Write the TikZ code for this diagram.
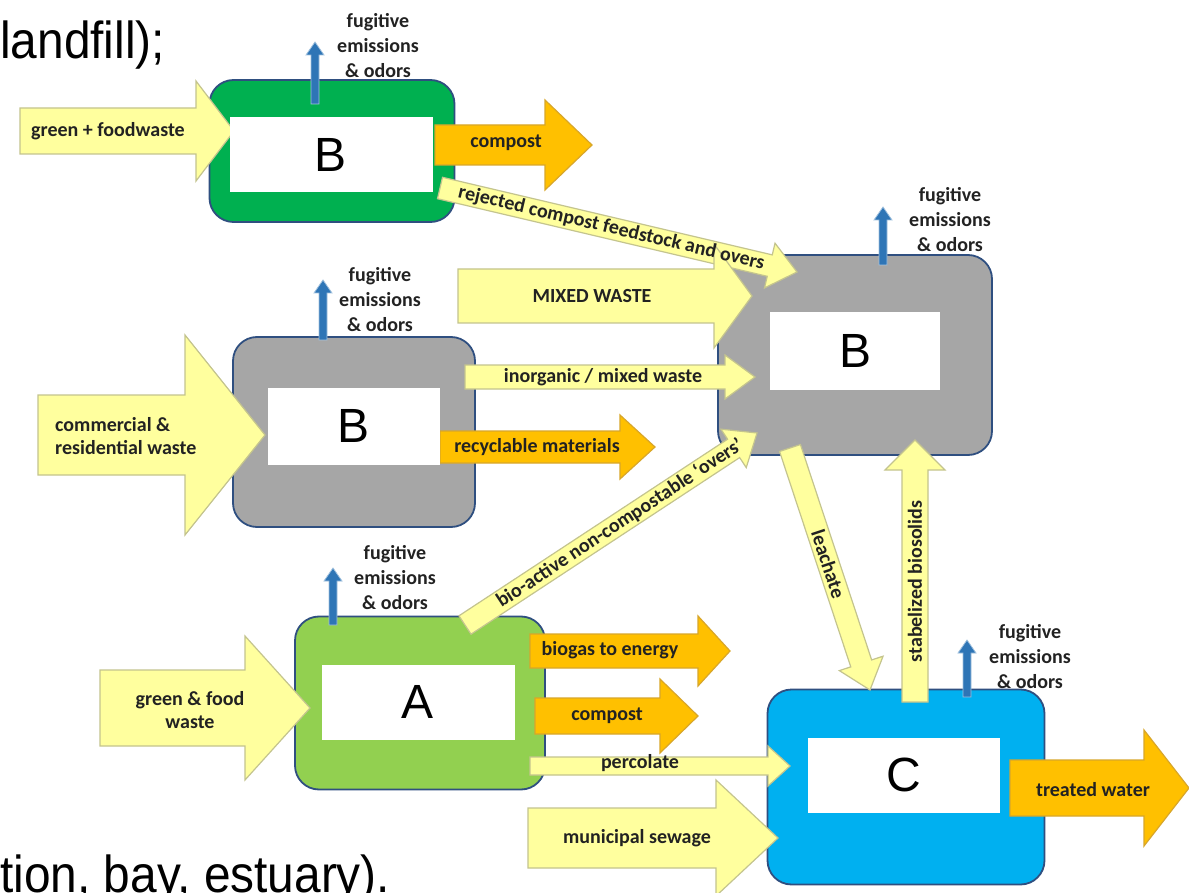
\documentclass[tikz,border=0pt]{standalone}
\usepackage{fontspec}
\setmainfont{Carlito}
\newfontfamily\slidefont{Liberation Sans}
\usepackage{tikz}
\usetikzlibrary{calc}

\definecolor{feedyellow}{HTML}{FFFF9E}
\definecolor{feededge}{HTML}{C4C48E}
\definecolor{productorange}{HTML}{FFC000}
\definecolor{productedge}{HTML}{D8A62A}
\definecolor{gasblue}{HTML}{2E75B6}
\definecolor{boxedge}{HTML}{2F4F80}
\definecolor{compostgreen}{HTML}{00B050}
\definecolor{digestgreen}{HTML}{92D050}
\definecolor{mrfgray}{HTML}{A6A6A6}
\definecolor{waterblue}{HTML}{00B0F0}
\definecolor{labeltext}{HTML}{222222}

\tikzset{site/.style={draw=boxedge, line width=1.8pt, rounded corners=24pt, inner sep=0pt}}
\tikzset{window/.style={fill=white, inner sep=0pt, font=\slidefont\fontsize{48}{48}\selectfont}}
\tikzset{feed/.style={fill=feedyellow, draw=feededge, line width=1.2pt}}
\tikzset{product/.style={fill=productorange, draw=productedge, line width=1.2pt}}
\tikzset{gas/.style={fill=gasblue, draw=gasblue!45, line width=0.8pt}}
\tikzset{lbl/.style={inner sep=0pt, text=labeltext, font=\fontsize{20}{23}\selectfont\bfseries}}
\tikzset{fumes/.style={lbl, align=center, font=\fontsize{20}{25}\selectfont\bfseries}}
\tikzset{slide/.style={inner sep=0pt, anchor=base west, xscale=0.92, font=\slidefont\fontsize{52}{52}\selectfont}}

% block arrow: [style]{tail}{tip}{body half width}{head half width}{head length}
\newcommand{\flow}[6][feed]{%
	\coordinate (flow base) at ($(#3)!#6!(#2)$);
	\filldraw[#1] ($(#2)!#4!90:(#3)$) -- ($(flow base)!#4!90:(#3)$) -- ($(flow base)!#5!90:(#3)$) -- (#3)
		-- ($(flow base)!#5!-90:(#3)$) -- ($(flow base)!#4!-90:(#3)$) -- ($(#2)!#4!-90:(#3)$) -- cycle;}

\begin{document}
\begin{tikzpicture}[x=1pt, y=-1pt]
	\path[use as bounding box, fill=white] (0,0) rectangle (1189,893);

	% slide text round the figure
	\node[slide] (slide top) at (0,59) {landfill);};
	\node[slide] (slide bottom) at (0,892) {tion, bay, estuary).};

	% SITES
	\node[site, fill=compostgreen, minimum width=245pt, minimum height=142pt] (compost site) at (332,151) {};
	\node[site, fill=mrfgray, minimum width=274pt, minimum height=200pt] (landfill site) at (855,355) {};
	\node[site, fill=mrfgray, minimum width=242pt, minimum height=190pt] (mrf site) at (354,432) {};
	\node[site, fill=digestgreen, minimum width=250pt, minimum height=173pt] (digest site) at (420,703) {};
	\node[site, fill=waterblue, minimum width=277pt, minimum height=195pt] (water site) at (906,787) {};

	% end points of the flows
	\coordinate (food top tail) at (20,131);		\coordinate (food top tip) at (234,131);
	\coordinate (compost top tail) at (435,145);	\coordinate (compost top tip) at (592,145);
	\coordinate (rejected tail) at (440,188);		\coordinate (rejected tip) at (797,272);
	\coordinate (mixed tail) at (458,296);			\coordinate (mixed tip) at (752,296);
	\coordinate (inorganic tail) at (465,377);		\coordinate (inorganic tip) at (755,377);
	\coordinate (commercial tail) at (38,435);		\coordinate (commercial tip) at (265,435);
	\coordinate (recycle tail) at (440,447);		\coordinate (recycle tip) at (655,447);
	\coordinate (overs tail) at (465,625);			\coordinate (overs tip) at (757,433);
	\coordinate (leachate tail) at (790,448);		\coordinate (leachate tip) at (870,690);
	\coordinate (biosolids tail) at (915,702);		\coordinate (biosolids tip) at (915,440);
	\coordinate (food low tail) at (100,708);		\coordinate (food low tip) at (310,708);
	\coordinate (biogas tail) at (530,651);			\coordinate (biogas tip) at (730,651);
	\coordinate (compost low tail) at (535,716);	\coordinate (compost low tip) at (698,716);
	\coordinate (percolate tail) at (530,766);		\coordinate (percolate tip) at (790,766);
	\coordinate (sewage tail) at (528,838);			\coordinate (sewage tip) at (778,838);
	\coordinate (treated tail) at (1010,788);		\coordinate (treated tip) at (1189,788);

	% fugitive emissions
	\coordinate (compost gas) at (315,104);		\coordinate (compost gas top) at (315,42);
	\coordinate (landfill gas) at (883,265);	\coordinate (landfill gas top) at (883,207);
	\coordinate (mrf gas) at (323,340);			\coordinate (mrf gas top) at (323,280);
	\coordinate (digest gas) at (333,625);		\coordinate (digest gas top) at (333,568);
	\coordinate (water gas) at (967,697);		\coordinate (water gas top) at (967,640);

	% FLOWS
	\flow{food top tail}{food top tip}{23pt}{50pt}{38pt}
	\flow[product]{compost top tail}{compost top tip}{20pt}{45pt}{47pt}
	\flow{rejected tail}{rejected tip}{11pt}{23pt}{28pt}
	\flow{mixed tail}{mixed tip}{27pt}{52pt}{38pt}
	\flow{inorganic tail}{inorganic tip}{12pt}{22pt}{30pt}
	\flow{commercial tail}{commercial tip}{40pt}{100pt}{80pt}
	\flow[product]{recycle tail}{recycle tip}{16pt}{32pt}{35pt}
	\flow{overs tail}{overs tip}{11pt}{23pt}{28pt}
	\flow{leachate tail}{leachate tip}{11pt}{23pt}{28pt}
	\flow{biosolids tail}{biosolids tip}{13pt}{30pt}{30pt}
	\flow{food low tail}{food low tip}{38pt}{72pt}{65pt}
	\flow[product]{biogas tail}{biogas tip}{17pt}{35pt}{32pt}
	\flow[product]{compost low tail}{compost low tip}{18pt}{37pt}{38pt}
	\flow{percolate tail}{percolate tip}{9pt}{20pt}{22pt}
	\flow{sewage tail}{sewage tip}{30pt}{58pt}{62pt}
	\flow[product]{treated tail}{treated tip}{28pt}{58pt}{45pt}

	\flow[gas]{compost gas}{compost gas top}{4pt}{9pt}{13pt}
	\flow[gas]{landfill gas}{landfill gas top}{4pt}{9pt}{13pt}
	\flow[gas]{mrf gas}{mrf gas top}{4pt}{9pt}{13pt}
	\flow[gas]{digest gas}{digest gas top}{4pt}{9pt}{13pt}
	\flow[gas]{water gas}{water gas top}{4pt}{9pt}{13pt}

	% WINDOWS
	\node[window, minimum width=203pt, minimum height=75pt] (compost window) at (331,155) {B};
	\node[window, minimum width=170pt, minimum height=77pt] (landfill window) at (855,351) {B};
	\node[window, minimum width=172pt, minimum height=77pt] (mrf window) at (354,426) {B};
	\node[window, minimum width=193pt, minimum height=75pt] (digest window) at (418,702) {A};
	\node[window, minimum width=192pt, minimum height=75pt] (water window) at (904,775) {C};

	% LABELS
	\node[lbl] (food top label) at (108,131) {green + foodwaste};
	\node[lbl] (compost top label) at (506,143) {compost};
	\node[lbl] (mixed label) at (592,296) {MIXED WASTE};
	\node[lbl] (inorganic label) at (603,377) {inorganic / mixed waste};
	\node[lbl, align=left, anchor=west] (commercial label) at (55,436) {commercial \&\\residential waste};
	\node[lbl] (recycle label) at (537,447) {recyclable materials};
	\node[lbl, align=center] (food low label) at (190,710) {green \& food\\waste};
	\node[lbl] (biogas label) at (610,650) {biogas to energy};
	\node[lbl] (compost low label) at (607,716) {compost};
	\node[lbl] (percolate label) at (640,763) {percolate};
	\node[lbl] (sewage label) at (637,838) {municipal sewage};
	\node[lbl] (treated label) at (1093,790) {treated water};

	\path (rejected tail) -- (rejected tip) node[lbl, sloped, pos=0.48] (rejected label) {rejected compost feedstock and overs};
	\path (overs tail) -- (overs tip) node[lbl, sloped, pos=0.53] (overs label) {bio-active non-compostable `overs'};
	\path (leachate tail) -- (leachate tip) node[lbl, sloped, pos=0.48] (leachate label) {leachate};
	\path (biosolids tail) -- (biosolids tip) node[lbl, sloped, pos=0.46] (biosolids label) {stabelized biosolids};

	\node[fumes] (compost fumes) at (378,46) {fugitive\\emissions\\\& odors};
	\node[fumes] (landfill fumes) at (950,220) {fugitive\\emissions\\\& odors};
	\node[fumes] (mrf fumes) at (380,300) {fugitive\\emissions\\\& odors};
	\node[fumes] (digest fumes) at (395,578) {fugitive\\emissions\\\& odors};
	\node[fumes] (water fumes) at (1030,657) {fugitive\\emissions\\\& odors};
\end{tikzpicture}
\end{document}
